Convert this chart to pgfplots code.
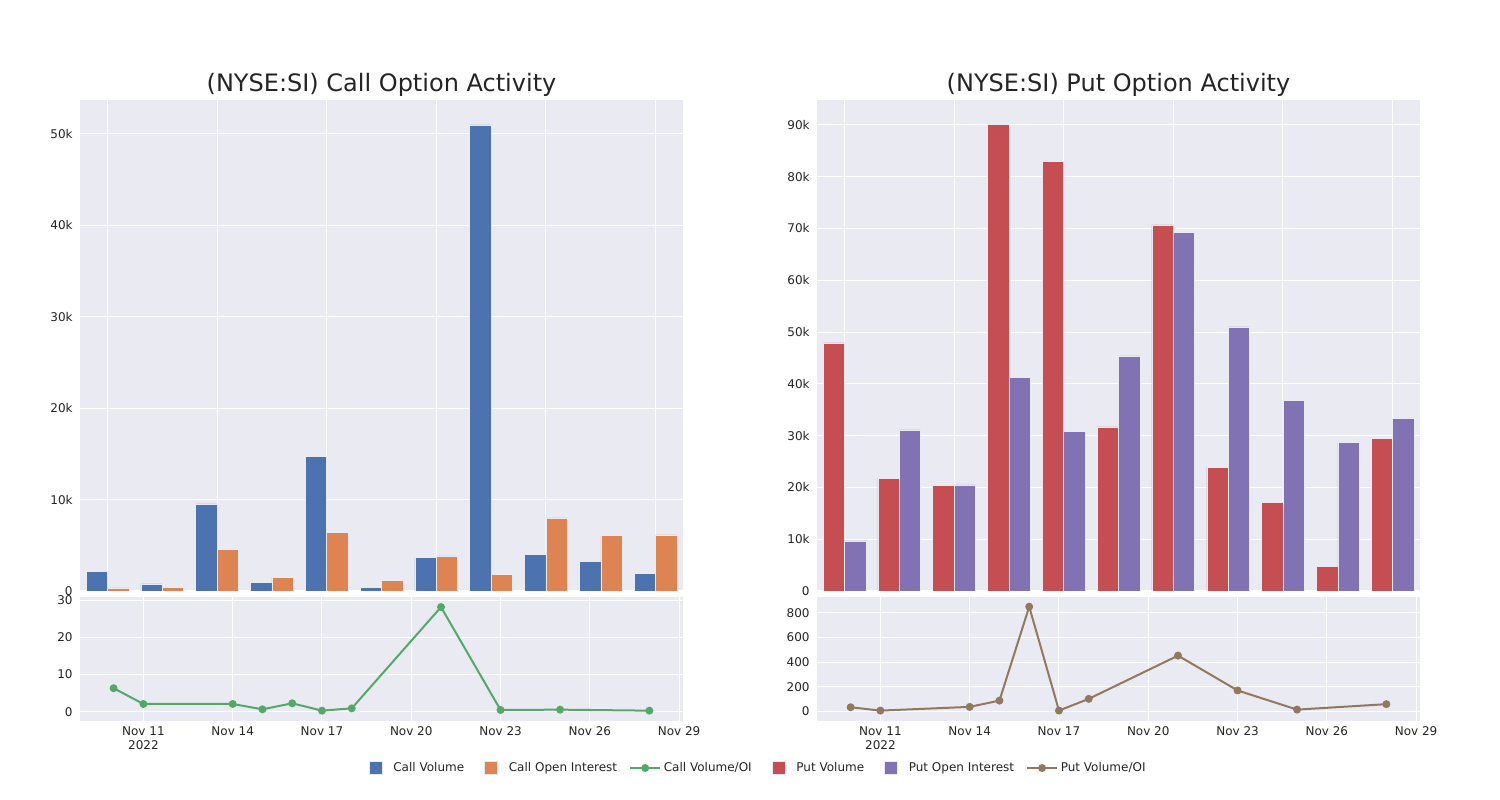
\documentclass[border=0pt]{standalone}
\usepackage{fontspec}
\setmainfont{DejaVu Sans}
\usepackage{pgfplots}
\pgfplotsset{compat=1.18}
\definecolor{cblue}{HTML}{4C72B0}
\definecolor{corange}{HTML}{DD8452}
\definecolor{cgreen}{HTML}{55A868}
\definecolor{cred}{HTML}{C44E52}
\definecolor{cpurple}{HTML}{8172B3}
\definecolor{cbrown}{HTML}{937860}
\definecolor{bg}{HTML}{EAEAF2}
\definecolor{txt}{RGB}{36,36,36}
\pgfplotsset{
  base/.style={scale only axis, anchor=south west,
    axis background/.style={fill=bg},
    axis line style={draw=none},
    major tick length=0pt,
    grid=major, major grid style={white, line width=0.75pt},
    tick label style={font=\fontsize{9}{10.8}\selectfont, text=txt},
    yticklabel style={xshift=-2pt},
    /pgf/number format/assume math mode=true,
    scaled y ticks=false},
  topax/.style={base, width=452.25pt, height=368.25pt,
    xmin=-0.5, xmax=10.5, xtick={0,2,...,10}, xticklabels={},
    title style={at={(0.5,1)}, anchor=base, font=\fontsize{18}{21.6}\selectfont, text=txt}},
  botax/.style={base, width=452.25pt, height=92.95pt,
    xmin=8.87, xmax=29.13, xtick={11,14,...,29},
    xticklabels={{Nov 11\\2022},Nov 14,Nov 17,Nov 20,Nov 23,Nov 26,Nov 29},
    xticklabel style={align=center, yshift=-1pt}},
  barl/.style={legend image code/.code={\path[draw=none,fill=none] (0pt,0pt) rectangle (22.5pt,0pt);
      \draw[##1, line width=0.4pt] (6.4pt,-4.9pt) rectangle (16.1pt,4.9pt);}},
  linel/.style={legend image code/.code={\draw[##1, mark repeat=2, mark phase=2] plot coordinates {(0pt,0pt) (11.25pt,0pt) (22.5pt,0pt)};}},
}
\begin{document}
\begin{tikzpicture}
\path (0pt,0pt) rectangle (1125pt,600pt);
% ---- Call bars
\begin{axis}[topax, at={(60pt,156.75pt)}, ymin=0, ymax=53720,
  ytick={0,10000,20000,30000,40000,50000}, yticklabels={0,10k,20k,30k,40k,50k},
  title={(NYSE:SI) Call Option Activity}]
\addplot[ybar, bar width=0.39, bar shift=-0.195, fill=cblue, draw=bg, line width=0.4pt]
  coordinates {(0,2150) (1,770) (2,9530) (3,910) (4,14710) (5,420) (6,3650) (7,51000) (8,4010) (9,3280) (10,1900)};
\addplot[ybar, bar width=0.39, bar shift=0.195, fill=corange, draw=bg, line width=0.4pt]
  coordinates {(0,330) (1,370) (2,4530) (3,1500) (4,6390) (5,1200) (6,3830) (7,1790) (8,7990) (9,6060) (10,6130)};
\end{axis}
% ---- Call ratio
\begin{axis}[botax, at={(60pt,59.55pt)}, ymin=-2.4, ymax=30.9, ytick={0,10,20,30}]
\addplot[cgreen, line width=1.5pt, mark=*, mark size=2.2pt]
  coordinates {(10,6.3) (11,2.07) (14,2.07) (15,0.63) (16,2.25) (17,0.27) (18,0.9) (21,28.1) (23,0.45) (25,0.54) (28,0.27)};
\end{axis}
% ---- Put bars
\begin{axis}[topax, at={(612.75pt,156.75pt)}, ymin=0, ymax=94820,
  ytick={0,10000,20000,30000,40000,50000,60000,70000,80000,90000},
  yticklabels={0,10k,20k,30k,40k,50k,60k,70k,80k,90k},
  title={(NYSE:SI) Put Option Activity}]
\addplot[ybar, bar width=0.39, bar shift=-0.195, fill=cred, draw=bg, line width=0.4pt]
  coordinates {(0,47900) (1,21800) (2,20400) (3,90100) (4,82900) (5,31700) (6,70700) (7,23900) (8,17100) (9,4700) (10,29400)};
\addplot[ybar, bar width=0.39, bar shift=0.195, fill=cpurple, draw=bg, line width=0.4pt]
  coordinates {(0,9670) (1,31100) (2,20500) (3,41200) (4,30800) (5,45400) (6,69300) (7,51000) (8,36800) (9,28700) (10,33400)};
\end{axis}
% ---- Put ratio + legend
\begin{axis}[botax, at={(612.75pt,59.55pt)}, ymin=-73, ymax=930, ytick={0,200,400,600,800},
  legend columns=6,
  legend style={at={(-0.1037,-0.3825)}, anchor=center, draw=none, fill=none,
    font=\fontsize{9}{10.8}\selectfont, text=txt,
    /tikz/every even column/.append style={column sep=7pt}},
  legend cell align=left]
\addlegendimage{barl, fill=cblue, draw=bg}
\addlegendentry{Call Volume}
\addlegendimage{barl, fill=corange, draw=bg}
\addlegendentry{Call Open Interest}
\addlegendimage{linel, cgreen, line width=1.5pt, mark=*, mark size=2.2pt}
\addlegendentry{Call Volume/OI}
\addlegendimage{barl, fill=cred, draw=bg}
\addlegendentry{Put Volume}
\addlegendimage{barl, fill=cpurple, draw=bg}
\addlegendentry{Put Open Interest}
\addplot[cbrown, line width=1.5pt, mark=*, mark size=2.2pt, linel]
  coordinates {(10,35) (11,8) (14,38) (15,89) (16,849) (17,8) (18,103) (21,453) (23,171) (25,16) (28,60)};
\addlegendentry{Put Volume/OI}
\end{axis}
\end{tikzpicture}
\end{document}
